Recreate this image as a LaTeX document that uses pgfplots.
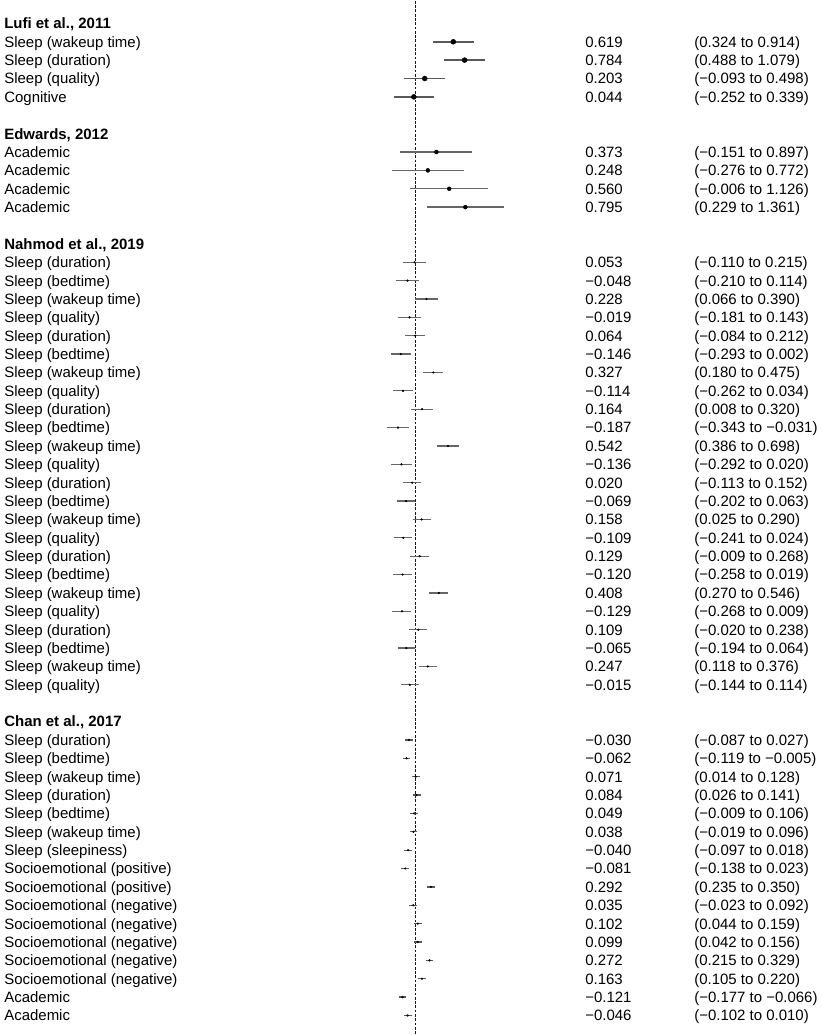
\documentclass[border=0pt]{standalone}
\usepackage{fontspec}
\setmainfont{Liberation Sans}
\usepackage{pgfplots}
\usepackage{pgfplotstable}
\pgfplotsset{compat=1.18}

% row  est  lo  hi  label  val  ci
\pgfplotstableread{
row est lo hi label val ci
1 0.619 0.324 0.914 {Sleep (wakeup time)} {0.619} {(0.324 to 0.914)}
2 0.784 0.488 1.079 {Sleep (duration)} {0.784} {(0.488 to 1.079)}
3 0.203 -0.093 0.498 {Sleep (quality)} {0.203} {(−0.093 to 0.498)}
4 0.044 -0.252 0.339 {Cognitive} {0.044} {(−0.252 to 0.339)}
}\lufi

\pgfplotstableread{
row est lo hi label val ci
7 0.373 -0.151 0.897 {Academic} {0.373} {(−0.151 to 0.897)}
8 0.248 -0.276 0.772 {Academic} {0.248} {(−0.276 to 0.772)}
9 0.560 -0.006 1.126 {Academic} {0.560} {(−0.006 to 1.126)}
10 0.795 0.229 1.361 {Academic} {0.795} {(0.229 to 1.361)}
}\edwards

\pgfplotstableread{
row est lo hi label val ci
13 0.053 -0.110 0.215 {Sleep (duration)} {0.053} {(−0.110 to 0.215)}
14 -0.048 -0.210 0.114 {Sleep (bedtime)} {−0.048} {(−0.210 to 0.114)}
15 0.228 0.066 0.390 {Sleep (wakeup time)} {0.228} {(0.066 to 0.390)}
16 -0.019 -0.181 0.143 {Sleep (quality)} {−0.019} {(−0.181 to 0.143)}
17 0.064 -0.084 0.212 {Sleep (duration)} {0.064} {(−0.084 to 0.212)}
18 -0.146 -0.293 0.002 {Sleep (bedtime)} {−0.146} {(−0.293 to 0.002)}
19 0.327 0.180 0.475 {Sleep (wakeup time)} {0.327} {(0.180 to 0.475)}
20 -0.114 -0.262 0.034 {Sleep (quality)} {−0.114} {(−0.262 to 0.034)}
21 0.164 0.008 0.320 {Sleep (duration)} {0.164} {(0.008 to 0.320)}
22 -0.187 -0.343 -0.031 {Sleep (bedtime)} {−0.187} {(−0.343 to −0.031)}
23 0.542 0.386 0.698 {Sleep (wakeup time)} {0.542} {(0.386 to 0.698)}
24 -0.136 -0.292 0.020 {Sleep (quality)} {−0.136} {(−0.292 to 0.020)}
25 0.020 -0.113 0.152 {Sleep (duration)} {0.020} {(−0.113 to 0.152)}
26 -0.069 -0.202 0.063 {Sleep (bedtime)} {−0.069} {(−0.202 to 0.063)}
27 0.158 0.025 0.290 {Sleep (wakeup time)} {0.158} {(0.025 to 0.290)}
28 -0.109 -0.241 0.024 {Sleep (quality)} {−0.109} {(−0.241 to 0.024)}
29 0.129 -0.009 0.268 {Sleep (duration)} {0.129} {(−0.009 to 0.268)}
30 -0.120 -0.258 0.019 {Sleep (bedtime)} {−0.120} {(−0.258 to 0.019)}
31 0.408 0.270 0.546 {Sleep (wakeup time)} {0.408} {(0.270 to 0.546)}
32 -0.129 -0.268 0.009 {Sleep (quality)} {−0.129} {(−0.268 to 0.009)}
33 0.109 -0.020 0.238 {Sleep (duration)} {0.109} {(−0.020 to 0.238)}
34 -0.065 -0.194 0.064 {Sleep (bedtime)} {−0.065} {(−0.194 to 0.064)}
35 0.247 0.118 0.376 {Sleep (wakeup time)} {0.247} {(0.118 to 0.376)}
36 -0.015 -0.144 0.114 {Sleep (quality)} {−0.015} {(−0.144 to 0.114)}
}\nahmod

\pgfplotstableread{
row est lo hi label val ci
39 -0.030 -0.087 0.027 {Sleep (duration)} {−0.030} {(−0.087 to 0.027)}
40 -0.062 -0.119 -0.005 {Sleep (bedtime)} {−0.062} {(−0.119 to −0.005)}
41 0.071 0.014 0.128 {Sleep (wakeup time)} {0.071} {(0.014 to 0.128)}
42 0.084 0.026 0.141 {Sleep (duration)} {0.084} {(0.026 to 0.141)}
43 0.049 -0.009 0.106 {Sleep (bedtime)} {0.049} {(−0.009 to 0.106)}
44 0.038 -0.019 0.096 {Sleep (wakeup time)} {0.038} {(−0.019 to 0.096)}
45 -0.040 -0.097 0.018 {Sleep (sleepiness)} {−0.040} {(−0.097 to 0.018)}
46 -0.081 -0.138 -0.024 {Socioemotional (positive)} {−0.081} {(−0.138 to 0.023)}
47 0.292 0.235 0.350 {Socioemotional (positive)} {0.292} {(0.235 to 0.350)}
48 0.035 -0.023 0.092 {Socioemotional (negative)} {0.035} {(−0.023 to 0.092)}
49 0.102 0.044 0.159 {Socioemotional (negative)} {0.102} {(0.044 to 0.159)}
50 0.099 0.042 0.156 {Socioemotional (negative)} {0.099} {(0.042 to 0.156)}
51 0.272 0.215 0.329 {Socioemotional (negative)} {0.272} {(0.215 to 0.329)}
52 0.163 0.105 0.220 {Socioemotional (negative)} {0.163} {(0.105 to 0.220)}
53 -0.121 -0.177 -0.066 {Academic} {−0.121} {(−0.177 to −0.066)}
54 -0.046 -0.102 0.010 {Academic} {−0.046} {(−0.102 to 0.010)}
}\chan

\pgfplotstableread{
row name
0 {Lufi et al., 2011}
6 {Edwards, 2012}
12 {Nahmod et al., 2019}
38 {Chan et al., 2017}
}\headers

\pgfplotsset{
  textplot/.style={draw=none, mark=none, nodes near coords, point meta=explicit symbolic,
    every node near coord/.append style={anchor=base west, inner sep=0pt, yshift=-5.4pt,
      text=black, font=\fontsize{15}{18}\selectfont}},
}

\newcommand\study[4]{%
  \addplot[only marks, mark=*, mark size=#2, mark options={draw=black, fill=black},
    error bars/.cd, x dir=both, x explicit, error mark=none,
    error bar style={line width=#3, color=#4}]
    table[x=est, y=row, x error plus expr=\thisrow{hi}-\thisrow{est},
      x error minus expr=\thisrow{est}-\thisrow{lo}] {#1};
  \addplot[textplot] table[x expr=-5.93, y=row, meta=label] {#1};
  \addplot[textplot] table[x expr=2.541, y=row, meta=val] {#1};
  \addplot[textplot] table[x expr=4.13, y=row, meta=ci] {#1};
}

\begin{document}
\begin{tikzpicture}
\begin{axis}[
  scale only axis, width=823pt, height=1035pt,
  xmin=-5.99, xmax=5.99, ymin=-1.228, ymax=55.016, y dir=reverse,
  hide axis, clip=false,
]
\path (rel axis cs:0,0) rectangle (rel axis cs:1,1);
\addplot[color=black!90, line width=1.7pt, dash pattern=on 2.8pt off 1.5pt]
  coordinates {(0.07,-1.228) (0.07,55.016)};
\study{\lufi}{2.5pt}{1.5pt}{black!65}
\study{\edwards}{2pt}{1.4pt}{black!60}
\study{\nahmod}{0.9pt}{1.3pt}{black!60}
\study{\chan}{0.9pt}{1.3pt}{black!65}
\addplot[textplot, every node near coord/.append style={font=\fontsize{15}{18}\selectfont\bfseries}]
  table[x expr=-5.93, y=row, meta=name] {\headers};
\end{axis}
\end{tikzpicture}
\end{document}
